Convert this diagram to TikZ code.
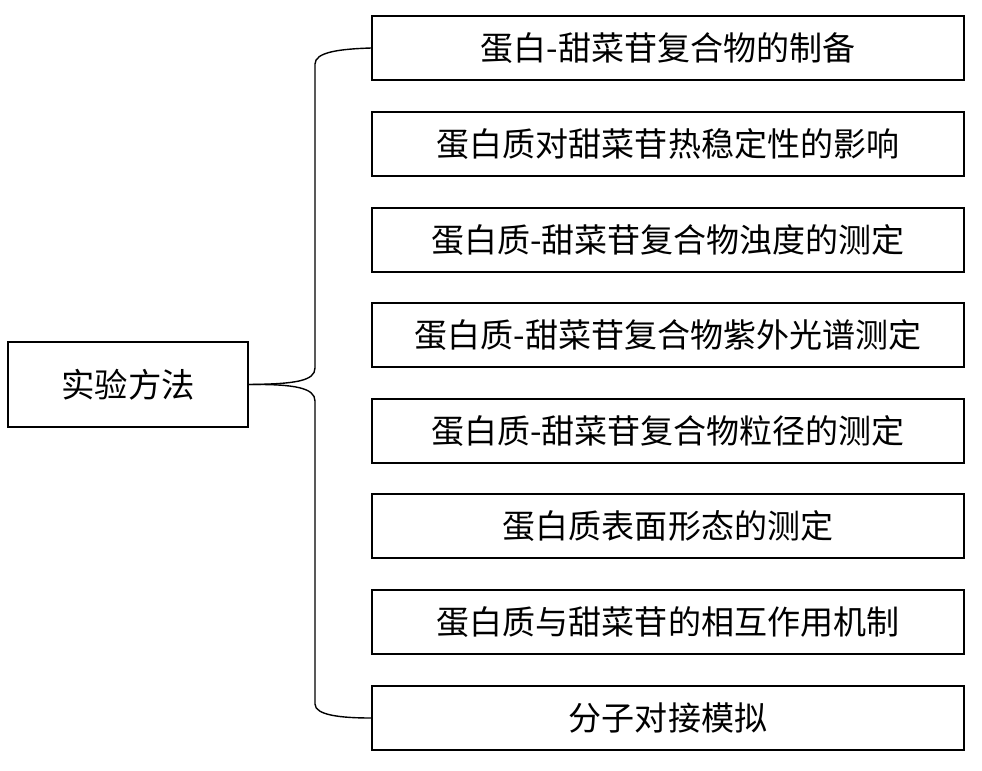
\documentclass[tikz,border=0pt]{standalone}
\usepackage{fontspec}
\setmainfont{Noto Sans CJK SC}
\begin{document}
\begin{tikzpicture}[x=0.02cm, y=-0.02cm,
  item/.style={draw=black, line width=1.1pt, minimum width=11.84cm, minimum height=1.28cm, inner sep=0pt, font=\fontsize{18.8}{21}\selectfont},
  root/.style={draw=black, line width=1.1pt, minimum width=4.8cm, minimum height=1.7cm, inner sep=0pt, font=\fontsize{19}{21}\selectfont}]
\useasboundingbox (0,0) rectangle (982,770);
\node[root] (M) at (128,384.5) {实验方法};
\node[item] (B1) at (668,48) {蛋白-甜菜苷复合物的制备};
\node[item] (B2) at (668,144) {蛋白质对甜菜苷热稳定性的影响};
\node[item] (B3) at (668,240) {蛋白质-甜菜苷复合物浊度的测定};
\node[item] (B4) at (668,335) {蛋白质-甜菜苷复合物紫外光谱测定};
\node[item] (B5) at (668,431) {蛋白质-甜菜苷复合物粒径的测定};
\node[item] (B6) at (668,526) {蛋白质表面形态的测定};
\node[item] (B7) at (668,622) {蛋白质与甜菜苷的相互作用机制};
\node[item] (B8) at (668,718) {分子对接模拟};
\draw[line width=0.8pt] (M.east) .. controls (295,384) and (315,381) .. (315,368) -- (315,64) .. controls (315,52) and (340,49) .. (B1.west);
\draw[line width=0.8pt] (M.east) .. controls (295,384) and (315,388) .. (315,401) -- (315,704) .. controls (315,715) and (340,718) .. (B8.west);
\end{tikzpicture}
\end{document}
